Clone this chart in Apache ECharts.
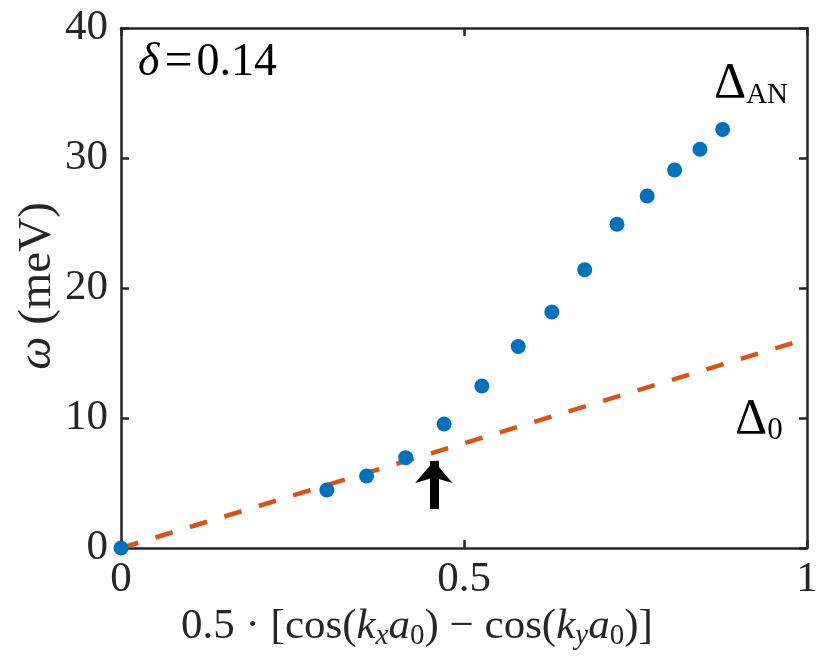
<!DOCTYPE html>
<html>
<head>
<meta charset="utf-8">
<script src="https://cdn.jsdelivr.net/npm/echarts@6/dist/echarts.min.js"></script>
<style>
html,body{margin:0;padding:0;background:#fff;}
#chart{width:831px;height:665px;}
</style>
</head>
<body>
<div id="chart"></div>
<script>
// ---- data ----
const anX = [0, 0.300, 0.358, 0.415, 0.471, 0.526, 0.579, 0.628, 0.676, 0.723, 0.767, 0.807, 0.844, 0.877];
const anY = [0, 4.46, 5.54, 6.95, 9.54, 12.46, 15.5, 18.15, 21.4, 24.9, 27.08, 29.08, 30.67, 32.2];
const gapX = [0, 1];
const gapY = [0, 16.1];
const arrowX = [0.456, 0.456];
const arrowY = [3.0, 6.7];
const xTicks = [0, 0.5, 1];
const yTicks = [0, 10, 20, 30, 40];

const FONT = 'Liberation Serif';
const AX = '#262626';

const chart = echarts.init(document.getElementById('chart'), null, {renderer: 'canvas'});

function axisBase(pos, isX, showLabel) {
  return {
    type: 'value',
    position: pos,
    min: isX ? xTicks[0] : yTicks[0],
    max: isX ? xTicks[xTicks.length - 1] : yTicks[yTicks.length - 1],
    interval: isX ? xTicks[1] - xTicks[0] : yTicks[1] - yTicks[0],
    axisLine: {show: true, onZero: false, lineStyle: {color: AX, width: 2.5}},
    axisTick: {show: true, inside: true, length: 8, lineStyle: {color: AX, width: 2.5}},
    splitLine: {show: false},
    axisLabel: {
      show: showLabel,
      fontFamily: FONT,
      fontSize: 43,
      color: AX,
      margin: isX ? 10 : 13
    }
  };
}

const xAxes = [axisBase('bottom', true, true), axisBase('top', true, false)];
const yAxes = [axisBase('left', false, true), axisBase('right', false, false)];

chart.setOption({
  animation: false,
  backgroundColor: '#fff',
  grid: {left: 121, right: 24, top: 28, bottom: 117, containLabel: false},
  xAxis: xAxes,
  yAxis: yAxes,
  graphic: [
    {
      type: 'text', x: 38, y: 286, rotation: Math.PI / 2,
      style: {
        text: '{i|ω}{n| (meV)}',
        align: 'center', verticalAlign: 'middle',
        fontFamily: FONT, fontSize: 47, fontWeight: 'normal', fill: AX,
        rich: {
          i: {fontFamily: FONT, fontStyle: 'italic', fontWeight: 'normal', fontSize: 47, fill: AX},
          n: {fontFamily: FONT, fontStyle: 'normal', fontWeight: 'normal', fontSize: 47, fill: AX}
        }
      }
    },
    {
      type: 'text', left: 181, top: 603,
      style: {
        text: '0.5 · [cos({i|k}{si|x}{i|a}{s|0}) − cos({i|k}{si|y}{i|a}{s|0})]',
        fontFamily: FONT, fontSize: 43, fill: AX, lineHeight: 48,
        rich: {
          i: {fontFamily: FONT, fontStyle: 'italic', fontSize: 43, fill: AX, lineHeight: 48},
          s: {fontFamily: FONT, fontSize: 29, fill: AX, verticalAlign: 'bottom', lineHeight: 22},
          si: {fontFamily: FONT, fontStyle: 'italic', fontSize: 29, fill: AX, verticalAlign: 'bottom', lineHeight: 22}
        }
      }
    },
    {
      type: 'text', left: 138, top: 38,
      style: {
        text: '{i|δ}{e|=}0.14',
        fontFamily: FONT, fontSize: 46, fill: '#000', lineHeight: 50,
        rich: {
          i: {fontFamily: FONT, fontStyle: 'italic', fontSize: 46, fill: '#000', lineHeight: 50},
          e: {fontFamily: FONT, fontSize: 50, fill: '#000', lineHeight: 50, padding: [0, 4, 0, 5]}
        }
      }
    },
    {
      type: 'text', left: 714, top: 58,
      style: {
        text: '{d|Δ}{s|AN}',
        fontFamily: FONT, fontSize: 50, fill: '#000', lineHeight: 52,
        rich: {
          d: {fontFamily: FONT, fontSize: 50, fill: '#000', lineHeight: 52},
          s: {fontFamily: FONT, fontSize: 29, fill: '#000', verticalAlign: 'bottom', lineHeight: 24}
        }
      }
    },
    {
      type: 'text', left: 735, top: 394,
      style: {
        text: '{d|Δ}{s|0}',
        fontFamily: FONT, fontSize: 50, fill: '#000', lineHeight: 52,
        rich: {
          d: {fontFamily: FONT, fontSize: 50, fill: '#000', lineHeight: 52},
          s: {fontFamily: FONT, fontSize: 31, fill: '#000', verticalAlign: 'bottom', lineHeight: 24}
        }
      }
    }
  ],
  series: [
    {
      type: 'line',
      data: gapX.map((x, i) => [x, gapY[i]]),
      showSymbol: false,
      symbol: 'none',
      lineStyle: {color: '#D95319', width: 4.5, type: [18, 18], cap: 'butt'},
      clip: false,
      z: 2
    },
    {
      type: 'scatter',
      data: anX.map((x, i) => [x, anY[i]]),
      symbol: 'circle',
      symbolSize: 15,
      itemStyle: {color: '#0072BD', opacity: 1},
      clip: false,
      z: 3
    },
    {
      type: 'line',
      data: [],
      markLine: {
        silent: true,
        animation: false,
        label: {show: false},
        lineStyle: {color: '#000', width: 9, type: 'solid'},
        symbol: ['none', 'arrow'],
        symbolSize: [28, 22],
        data: [[
          {coord: [arrowX[0], arrowY[0]]},
          {coord: [arrowX[1], arrowY[1]]}
        ]]
      },
      z: 4
    }
  ]
});
</script>
</body>
</html>
